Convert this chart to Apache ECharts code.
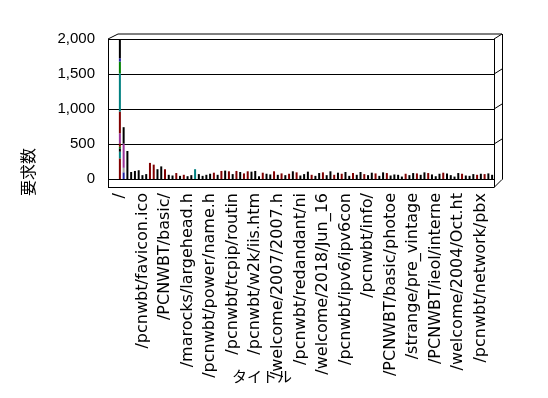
<!DOCTYPE html>
<html lang="ja">
<head>
<meta charset="UTF-8">
<title>要求数</title>
<script src="https://cdn.jsdelivr.net/npm/echarts@6/dist/echarts.min.js"></script>
<style>
    html, body { margin: 0; padding: 0; background: #fff; }
    #chart { width: 548px; height: 398px; }
</style>
</head>
<body>
<div id="chart"></div>
<script>
    // 軸ラベルは6件ごとにしか出ていない
    var shownLabels = ['/', '/pcnwbt/favicon.ico', '/PCNWBT/basic/', '/marocks/largehead.h',
        '/pcnwbt/power/name.h', '/pcnwbt/tcpip/routin', '/pcnwbt/w2k/iis.htm', '/welcome/2007/2007.h',
        '/pcnwbt/redandant/ni', '/welcome/2018/Jun_16', '/pcnwbt/ipv6/ipv6con', '/pcnwbt/info/',
        '/PCNWBT/basic/photoe', '/strange/pre_vintage', '/PCNWBT/ieol/interne', '/welcome/2004/Oct.ht',
        '/pcnwbt/network/pbx'];

    // URLごとの要求数
    var hits = [2000, 740, 400, 100, 115, 125, 55, 70, 230, 205,
        140, 180, 140, 60, 50, 85, 45, 60, 40, 55,
        140, 70, 45, 60, 75, 90, 60, 115, 120, 110,
        70, 115, 100, 80, 110, 105, 115, 40, 90, 75,
        65, 110, 60, 80, 55, 75, 110, 95, 50, 70,
        105, 60, 45, 85, 95, 55, 110, 60, 90, 75,
        100, 45, 85, 60, 100, 70, 55, 90, 80, 45,
        95, 85, 50, 65, 60, 35, 75, 55, 85, 80,
        60, 95, 85, 65, 40, 75, 90, 80, 55, 35,
        85, 75, 50, 45, 70, 60, 75, 70, 80, 60];
    var redUrls = [8, 9, 12, 15, 17, 25, 27, 29, 31, 33, 34, 38, 41, 43, 45, 47, 51, 54, 57, 59,
        62, 65, 68, 71, 76, 79, 82, 86, 91, 95, 97];
    var tealUrls = [20];

    // 先頭2本の内訳（下から）
    var layerVals = [
        ['-', 95], ['-', 65], [295, '-'], [95, '-'], [48, '-'], [22, '-'], [50, '-'],
        [143, 345], [310, '-'], [547, '-'], [167, '-'], [47, '-'], [276, 235]
    ];
    var layerColors = ['#2020a0', '#a0a0a0', '#800000', '#008080', '#000000', '#008000', '#800000',
        '#993399', '#800000', '#008080', '#008000', '#2020a0', '#000000'];

    var yTicks = [0, 500, 1000, 1500, 2000];

    var chart = echarts.init(document.getElementById('chart'));

    var categories = hits.map(function (v, i) {
        return i % 6 === 0 ? shownLabels[i / 6] : '';
    });

    function pick(test) {
        return hits.map(function (v, i) {
            return (i > 1 && test(i)) ? v : '-';
        });
    }
    var isRed = function (i) { return redUrls.indexOf(i) >= 0; };
    var isTeal = function (i) { return tealUrls.indexOf(i) >= 0; };

    var series = layerVals.map(function (d, k) {
        return {
            type: 'bar', stack: 'u', barWidth: 2, xAxisIndex: 1, yAxisIndex: 1,
            data: d, itemStyle: { color: layerColors[k] }, silent: true
        };
    });
    series.push({
        type: 'bar', stack: 'u', barWidth: 2, xAxisIndex: 1, yAxisIndex: 1, silent: true,
        data: pick(function (i) { return !isRed(i) && !isTeal(i); }), itemStyle: { color: '#000000' }
    });
    series.push({
        type: 'bar', stack: 'u', barWidth: 2, xAxisIndex: 1, yAxisIndex: 1, silent: true,
        data: pick(isRed), itemStyle: { color: '#800000' }
    });
    series.push({
        type: 'bar', stack: 'u', barWidth: 2, xAxisIndex: 1, yAxisIndex: 1, silent: true,
        data: pick(isTeal), itemStyle: { color: '#008080' }
    });

    chart.setOption({
        animation: false,
        backgroundColor: '#fff',
        grid: [
            { left: 108, right: 54, top: 39, bottom: 219 },
            { left: 118, right: 54, top: 39, bottom: 219 }
        ],
        xAxis: [
            { type: 'value', gridIndex: 0, show: false },
            {
                type: 'category', gridIndex: 1, data: categories,
                axisLine: { lineStyle: { color: '#000', width: 1 } },
                axisTick: { interval: 0, length: 9, lineStyle: { color: '#000' } },
                axisLabel: {
                    interval: 5, rotate: 90, margin: 14, color: '#000',
                    fontFamily: 'DejaVu Sans', fontSize: 16
                },
                splitLine: { show: false }
            }
        ],
        yAxis: [
            {
                type: 'value', gridIndex: 0, min: 0, max: 2000, interval: 500,
                axisLine: { show: false }, axisTick: { show: false },
                axisLabel: {
                    margin: 13, color: '#000', fontFamily: 'Liberation Sans', fontSize: 15,
                    formatter: function (v) { return v.toLocaleString('en-US'); }
                },
                splitLine: { lineStyle: { color: '#000', width: 1 } }
            },
            { type: 'value', gridIndex: 1, min: 0, max: 2000, show: false }
        ],
        series: series
    });

    // 3Dっぽい枠線
    var L = 108, R = 494, DX = 8, DY = 5;
    var yTop = chart.convertToPixel({ yAxisIndex: 0 }, 2000);
    var floorY = 187.5;
    function seg(x1, y1, x2, y2) {
        return { type: 'line', silent: true, shape: { x1: x1, y1: y1, x2: x2, y2: y2 },
            style: { stroke: '#000', lineWidth: 1 } };
    }
    var g = [
        seg(L + 0.5, yTop, L + 0.5, floorY),
        seg(L, yTop, L + 10, yTop - DY),
        seg(L + 10, yTop - DY, R + DX, yTop - DY),
        seg(R + DX + 0.5, yTop - DY, R + DX + 0.5, floorY - DX),
        seg(R + 0.5, yTop, R + 0.5, floorY),
        seg(L, floorY, R, floorY),
        seg(R, floorY, R + DX, floorY - DX)
    ];
    yTicks.forEach(function (t) {
        if (t === 0) return;
        var y = chart.convertToPixel({ yAxisIndex: 0 }, t);
        g.push(seg(R, y, R + DX, y - DY));
    });
    g.push({
        type: 'text', x: 262, y: 376, silent: true,
        style: { text: 'タイトル', fill: '#000', font: '15px "Noto Sans CJK JP"', align: 'center', verticalAlign: 'middle' }
    });
    g.push({
        type: 'text', x: 28, y: 172, rotation: Math.PI / 2, silent: true,
        style: { text: '要求数', fill: '#000', font: '16px "Noto Sans CJK JP"', align: 'center', verticalAlign: 'middle' }
    });
    chart.setOption({ graphic: g });
</script>
</body>
</html>
